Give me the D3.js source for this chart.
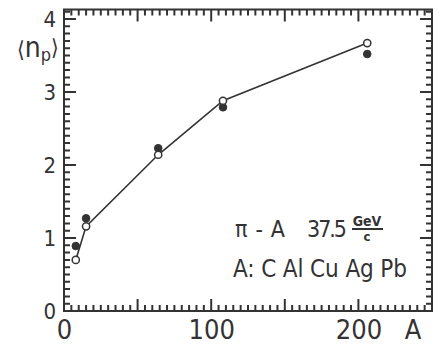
<!DOCTYPE html>
<html><head><meta charset="utf-8">
<script src="https://cdn.jsdelivr.net/npm/d3@7"></script>
<style>
body{margin:0;background:#fff;}
svg{display:block;}
.lab{font-family:"DejaVu Sans Condensed","Liberation Sans",sans-serif;fill:#333;}
</style></head>
<body>
<svg id="c" width="443" height="349"></svg>
<script>
const categories = ["C","Al","Cu","Ag","Pb"];
const aValues = [8, 15, 64, 108, 206];
const openValues = [0.70, 1.16, 2.14, 2.88, 3.67];
const filledValues = [0.89, 1.27, 2.23, 2.79, 3.52];
const xMajorTicks = [0, 50, 100, 150, 200, 250];
const xLabelTicks = [0, 100, 200];
const yMajorTicks = [0, 1, 2, 3, 4];

const ink = "#333";
const svg = d3.select("#c");
const x = d3.scaleLinear([0, 250], [64, 432]);
const y = d3.scaleLinear([0, 4.13], [311, 9.5]);
const yTop = y.range()[1];

const xMinor = d3.range(0, 251, 5).filter(v => !xMajorTicks.includes(v));
const yMinor = d3.range(1, 42).map(v => v / 10).filter(v => !yMajorTicks.includes(v));

// frame + all inward tick marks as one path built from the scales
const p = d3.path();
p.rect(x(0), yTop, x(250) - x(0), y(0) - yTop);
function xTicks(vals, len){
  vals.forEach(d => {
    p.moveTo(x(d), y(0)); p.lineTo(x(d), y(0) - len);
    p.moveTo(x(d), yTop); p.lineTo(x(d), yTop + len);
  });
}
function yTicks(vals, len){
  vals.forEach(d => {
    p.moveTo(x(0), y(d)); p.lineTo(x(0) + len, y(d));
    p.moveTo(x(250), y(d)); p.lineTo(x(250) - len, y(d));
  });
}
xTicks(xMinor, 6); xTicks(xMajorTicks, 12);
yTicks(yMinor, 6); yTicks(yMajorTicks, 12);
svg.append("path").attr("d", p.toString())
  .attr("fill", "none").attr("stroke", ink).attr("stroke-width", 2);

// tick labels via d3 axes
const bx = svg.append("g").attr("transform", `translate(0,${y(0)})`)
  .call(d3.axisBottom(x).tickValues(xLabelTicks).tickSize(0).tickPadding(9));
bx.select(".domain").remove();
bx.selectAll("text").attr("class", "lab").style("font-size", "27px");

const ly = svg.append("g").attr("transform", `translate(${x(0)},0)`)
  .call(d3.axisLeft(y).tickValues(yMajorTicks).tickSize(0).tickPadding(8).tickFormat(d3.format("d")));
ly.select(".domain").remove();
ly.selectAll("text").attr("class", "lab").style("font-size", "22px");

const pts = categories.map((c, i) => ({c, a: aValues[i], o: openValues[i], f: filledValues[i]}));

svg.append("path").datum(pts)
  .attr("d", d3.line().x(d => x(d.a)).y(d => y(d.o)))
  .attr("fill", "none").attr("stroke", ink).attr("stroke-width", 1.6);

svg.selectAll(".fp").data(pts).join("circle").attr("class", "fp")
  .attr("cx", d => x(d.a)).attr("cy", d => y(d.f)).attr("r", 3.8)
  .attr("fill", ink).attr("stroke", ink).attr("stroke-width", 1);
svg.selectAll(".op").data(pts).join("circle").attr("class", "op")
  .attr("cx", d => x(d.a)).attr("cy", d => y(d.o)).attr("r", 3.6)
  .attr("fill", "#fff").attr("stroke", ink).attr("stroke-width", 1.5);

// axis titles
const yt = svg.append("text").attr("class", "lab").attr("x", 17).attr("y", 57).style("font-size", "28px");
yt.append("tspan").text("⟨").style("font-size", "22px");
yt.append("tspan").text("n");
yt.append("tspan").text("p").attr("dy", 4).style("font-size", "18px");
yt.append("tspan").text("⟩").attr("dy", -6).style("font-size", "22px");

svg.append("text").attr("class", "lab").attr("x", 413).attr("y", 339)
  .attr("text-anchor", "middle").style("font-size", "27px").text("A");

// annotation
svg.append("text").attr("class", "lab").attr("x", 235).attr("y", 237).style("font-size", "23px")
  .attr("textLength", 50).text("π-A");
svg.append("text").attr("class", "lab").attr("x", 307).attr("y", 237).style("font-size", "23px")
  .attr("textLength", 40).text("37.5");
svg.append("text").attr("class", "lab").attr("x", 367).attr("y", 226).attr("text-anchor", "middle")
  .style("font-size", "14px").style("font-weight", "bold").text("GeV");
svg.append("rect").attr("x", 352).attr("y", 228).attr("width", 31).attr("height", 2).attr("fill", ink);
svg.append("text").attr("class", "lab").attr("x", 367).attr("y", 241).attr("text-anchor", "middle")
  .style("font-size", "13px").style("font-weight", "bold").text("c");
svg.append("text").attr("class", "lab").attr("x", 233).attr("y", 277).style("font-size", "24px")
  .attr("textLength", 174).text("A: C Al Cu Ag Pb");
</script>
</body></html>
